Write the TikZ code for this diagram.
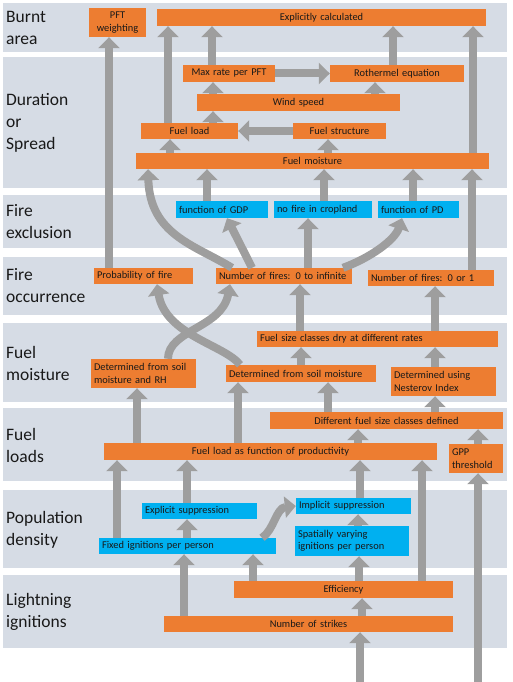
\documentclass[tikz,border=0pt]{standalone}
\usepackage{fontspec}
\setmainfont{Carlito}
\usetikzlibrary{arrows.meta}

\definecolor{bandgray}{HTML}{D6DCE5}
\definecolor{boxorange}{HTML}{ED7D31}
\definecolor{boxblue}{HTML}{00B0F0}
\definecolor{arrowgray}{HTML}{9E9E9E}

\begin{document}
\begin{tikzpicture}[
	x=1pt, y=-1pt,
	obox/.style={fill=boxorange, inner xsep=3pt, inner ysep=1pt, align=center,
		font=\fontsize{10.4}{12.5}\selectfont, text=black!90},
	bbox/.style={obox, fill=boxblue, align=left},
	lbox/.style={obox, align=left},
	lab/.style={anchor=west, align=left, inner sep=0pt,
		font=\fontsize{17.5}{22}\selectfont, text=black!90},
	arr/.style={draw=arrowgray, line width=8pt, -{Triangle[width=21pt,length=11pt]}},
]
	\useasboundingbox (0,0) rectangle (512,682);

	% bands
	\fill[bandgray] (3,3) rectangle (507,52);
	\fill[bandgray] (3,57) rectangle (507,188);
	\fill[bandgray] (3,195) rectangle (507,248);
	\fill[bandgray] (3,257) rectangle (507,315);
	\fill[bandgray] (3,323) rectangle (507,402);
	\fill[bandgray] (3,408) rectangle (507,481);
	\fill[bandgray] (3,490) rectangle (507,568);
	\fill[bandgray] (3,575) rectangle (507,648);

	\node[lab] (lburnt) at (6,28) {Burnt\\area};
	\node[lab] (lspread) at (6,123) {Duration\\or\\Spread};
	\node[lab] (lexcl) at (6,222) {Fire\\exclusion};
	\node[lab] (locc) at (6,286) {Fire\\occurrence};
	\node[lab] (lmoist) at (6,363) {Fuel\\moisture};
	\node[lab] (lloads) at (6,445) {Fuel\\loads};
	\node[lab] (lpop) at (6,530) {Population\\density};
	\node[lab] (llight) at (6,612) {Lightning\\ignitions};

	% burnt area
	\node[obox, text width=51pt, minimum height=29pt] (pft) at (117.5,22.5) {PFT\\weighting};
	\node[obox, text width=323pt, minimum height=17pt] (expl) at (321.5,17.5) {Explicitly calculated};

	% duration or spread
	\node[obox, text width=86pt, minimum height=17pt] (maxr) at (229,73.5) {Max rate per PFT};
	\node[obox, text width=128pt, minimum height=17pt] (roth) at (397,73.5) {Rothermel equation};
	\node[obox, text width=197pt, minimum height=17pt] (wind) at (298.5,102.5) {Wind speed};
	\node[obox, text width=91pt, minimum height=16pt] (fload) at (189.5,131) {Fuel load};
	\node[obox, text width=87pt, minimum height=16pt] (fstruct) at (339.5,131) {Fuel structure};
	\node[obox, text width=347pt, minimum height=16pt] (fmoist) at (312.5,161) {Fuel moisture};

	% fire exclusion
	\node[bbox, text width=86pt, minimum height=17pt] (gdp) at (222,209.5) {function of GDP};
	\node[bbox, text width=92pt, minimum height=17pt] (crop) at (323,209.5) {no fire in cropland};
	\node[bbox, text width=75pt, minimum height=17pt] (pd) at (418.5,209.5) {function of PD};

	% fire occurrence
	\node[lbox, text width=93pt, minimum height=16pt] (prob) at (143.5,276) {Probability of fire};
	\node[lbox, text width=130pt, minimum height=16pt] (ninf) at (284,276) {Number of fires: 0 to infinite};
	\node[lbox, text width=120pt, minimum height=16pt] (none) at (431,278) {Number of fires: 0 or 1};

	% fuel moisture
	\node[lbox, text width=235pt, minimum height=16pt] (fsdry) at (377.5,339) {Fuel size classes dry at different rates};
	\node[lbox, text width=99pt, minimum height=29pt] (dsrh) at (143.5,373.5) {Determined from soil\\moisture and RH};
	\node[lbox, text width=144pt, minimum height=17pt] (dsm) at (301,373.5) {Determined from soil moisture};
	\node[lbox, text width=99pt, minimum height=29pt] (nest) at (443.5,381.5) {Determined using\\Nesterov Index};

	% fuel loads
	\node[obox, text width=227pt, minimum height=17pt] (fdef) at (386.5,420.5) {Different fuel size classes defined};
	\node[obox, text width=327pt, minimum height=17pt] (fprod) at (270.5,451.5) {Fuel load as function of productivity};
	\node[lbox, text width=48pt, minimum height=29pt] (gpp) at (476,458.5) {GPP\\threshold};

	% population density
	\node[bbox, text width=109pt, minimum height=16pt] (expsup) at (199.5,511) {Explicit suppression};
	\node[bbox, text width=109pt, minimum height=16pt] (impsup) at (353.5,506) {Implicit suppression};
	\node[bbox, text width=171pt, minimum height=16pt] (fixed) at (187.5,546) {Fixed ignitions per person};
	\node[bbox, text width=108pt, minimum height=30pt] (spat) at (352,541) {Spatially varying\\ignitions per person};

	% lightning ignitions
	\node[obox, text width=213pt, minimum height=17pt] (eff) at (343.5,589.5) {Efficiency};
	\node[obox, text width=283pt, minimum height=16pt] (strikes) at (308.5,624) {Number of strikes};

	\coordinate (insrc) at (360,682);
	\coordinate (gppsrc) at (478,682);

	% arrows into burnt area and spread
	\draw[arr] (109,0 |- prob.north) -- (109,0 |- pft.south);
	\draw[arr] (168,0 |- fload.north) -- (168,0 |- expl.south);
	\draw[arr] (212,0 |- maxr.north) -- (212,0 |- expl.south);
	\draw[arr] (393,0 |- roth.north) -- (393,0 |- expl.south);
	\draw[arr] (473,0 |- fmoist.north) -- (473,0 |- expl.south);
	\draw[arr] (213,0 |- wind.north) -- (213,0 |- maxr.south);
	\draw[arr] (375,0 |- wind.north) -- (375,0 |- roth.south);
	\draw[arr] (213,0 |- fload.north) -- (213,0 |- wind.south);
	\draw[arr] (170,0 |- fmoist.north) -- (170,0 |- fload.south);
	\draw[arr] (328,0 |- fmoist.north) -- (328,0 |- fstruct.south);
	\draw[arr] (fstruct.west) -- (fload.east);
	\draw[arr] (maxr.east) -- (roth.west);

	% exclusion and occurrence
	\draw[arr] (207,0 |- gdp.north) -- (207,0 |- fmoist.south);
	\draw[arr] (324,0 |- crop.north) -- (324,0 |- fmoist.south);
	\draw[arr] (413,0 |- pd.north) -- (413,0 |- fmoist.south);
	\draw[arr] (472,0 |- none.north) -- (472,0 |- fmoist.south);
	\draw[arr] (232,0 |- ninf.north) .. controls (195,245) and (150,235) .. (148,0 |- fmoist.south);
	\draw[arr] (252,0 |- ninf.north) -- (227,0 |- gdp.south);
	\draw[arr] (308,0 |- ninf.north) -- (308,0 |- crop.south);
	\draw[arr] (343,0 |- ninf.north) .. controls (370,258) and (395,240) .. (402,0 |- pd.south);

	% fuel moisture
	\draw[arr] (300,0 |- fsdry.north) -- (300,0 |- ninf.south);
	\draw[arr] (435,0 |- fsdry.north) -- (435,0 |- none.south);
	\draw[arr] (240,0 |- dsm.north) .. controls (225,345) and (165,335) .. (157,0 |- prob.south);
	\draw[arr] (168,0 |- dsrh.north) .. controls (168,330) and (222,328) .. (230,0 |- ninf.south);
	\draw[arr] (301,0 |- dsm.north) -- (301,0 |- fsdry.south);
	\draw[arr] (435,0 |- nest.north) -- (435,0 |- fsdry.south);

	% fuel loads
	\draw[arr] (137,0 |- fprod.north) -- (137,0 |- dsrh.south);
	\draw[arr] (238,0 |- fprod.north) -- (238,0 |- dsm.south);
	\draw[arr] (328,0 |- fdef.north) -- (328,0 |- dsm.south);
	\draw[arr] (435,0 |- fdef.north) -- (435,0 |- nest.south);
	\draw[arr] (358,0 |- fprod.north) -- (358,0 |- fdef.south);
	\draw[arr] (478,0 |- gpp.north) -- (478,0 |- fdef.south);

	% population and lightning
	\draw[arr] (117,0 |- fixed.north) -- (117,0 |- fprod.south);
	\draw[arr] (187,0 |- expsup.north) -- (187,0 |- fprod.south);
	\draw[arr] (360,0 |- impsup.north) -- (360,0 |- fprod.south);
	\draw[arr] (422,0 |- eff.north) -- (422,0 |- fprod.south);
	\draw[arr] (187,0 |- fixed.north) -- (187,0 |- expsup.south);
	\draw[arr] (262,0 |- fixed.north) .. controls (274,530) and (276,508) .. (impsup.west);
	\draw[arr] (358,0 |- spat.north) -- (358,0 |- impsup.south);
	\draw[arr] (184,0 |- strikes.north) -- (184,0 |- fixed.south);
	\draw[arr] (253,0 |- eff.north) -- (253,0 |- fixed.south);
	\draw[arr] (359,0 |- eff.north) -- (359,0 |- spat.south);
	\draw[arr] (362,0 |- strikes.north) -- (362,0 |- eff.south);
	\draw[arr] (insrc) -- (insrc |- strikes.south);
	\draw[arr] (gppsrc) -- (gppsrc |- gpp.south);
\end{tikzpicture}
\end{document}
